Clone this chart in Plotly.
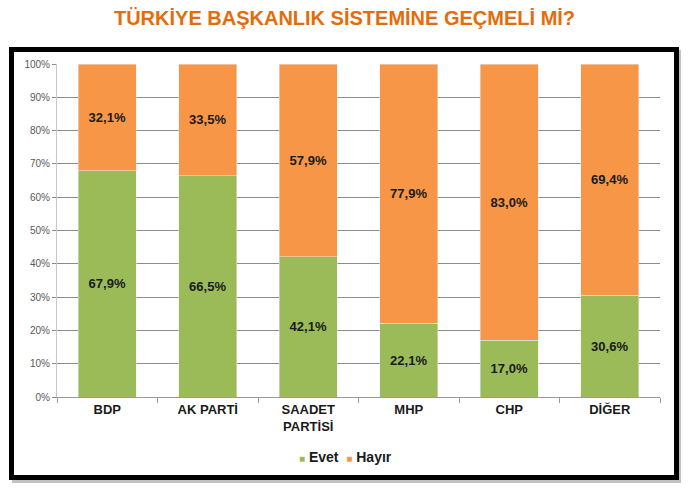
import plotly.graph_objects as go

categories = ["BDP", "AK PARTİ", "SAADET<br>PARTİSİ", "MHP", "CHP", "DİĞER"]
series_names = ["Evet", "Hayır"]
series_colors = ["#9BBB59", "#F79646"]
evet = [67.9, 66.5, 42.1, 22.1, 17.0, 30.6]
hayir = [32.1, 33.5, 57.9, 77.9, 83.0, 69.4]
y_ticks = [0, 10, 20, 30, 40, 50, 60, 70, 80, 90, 100]
y_tick_labels = [f"{v}%" for v in y_ticks]

W, H = 689, 491
L, R, T, B = 57, 29, 64, 94
pw, ph = W - L - R, H - T - B


def px(x):
    return (x - L) / pw


def py(y):
    return (H - B - y) / ph


def fmt(v):
    return f"{v:.1f}".replace(".", ",") + "%"


fig = go.Figure()
for name, color, vals in zip(series_names, series_colors, [evet, hayir]):
    fig.add_trace(go.Bar(
        name=name, x=categories, y=vals, marker_color=color,
        text=[fmt(v) for v in vals], textposition="inside", insidetextanchor="middle",
        texttemplate="<b>%{text}</b>",
        textfont=dict(family="Liberation Sans", size=13, color="#1a1a1a"),
        textangle=0,
    ))

# shadow and frame
fig.add_shape(type="rect", xref="paper", yref="paper",
              x0=px(12), x1=px(681), y0=py(483), y1=py(50),
              line=dict(color="rgba(0,0,0,0)", width=0),
              fillcolor="rgba(120,120,120,0.45)", layer="below")
fig.add_shape(type="rect", xref="paper", yref="paper",
              x0=px(9), x1=px(679), y0=py(480), y1=py(47),
              line=dict(color="rgba(0,0,0,0)", width=0),
              fillcolor="black", layer="below")
fig.add_shape(type="rect", xref="paper", yref="paper",
              x0=px(14), x1=px(674), y0=py(475), y1=py(52),
              line=dict(color="rgba(0,0,0,0)", width=0),
              fillcolor="white", layer="below")

# compact legend (Excel style)
legend_text = "  ".join(
    f'<span style="color:{c}; font-size:10px">■</span> <b>{n}</b>'
    for n, c in zip(series_names, series_colors)
)
fig.add_annotation(
    text=legend_text, xref="paper", yref="paper",
    x=px(345), y=py(457), xanchor="center", yanchor="middle", showarrow=False,
    font=dict(family="Liberation Sans", size=14, color="#1a1a1a"),
)

fig.update_layout(
    width=W, height=H,
    margin=dict(l=L, r=R, t=T, b=B, autoexpand=False),
    barmode="stack", bargap=0.42,
    paper_bgcolor="white", plot_bgcolor="rgba(0,0,0,0)",
    title=dict(text="<b>TÜRKİYE BAŞKANLIK SİSTEMİNE GEÇMELİ Mİ?</b>",
               x=0.5, xref="container", xanchor="center",
               y=1 - 18 / H, yref="container", yanchor="middle",
               font=dict(family="Liberation Sans", size=20, color="#E46C0A")),
    showlegend=False,
    xaxis=dict(
        automargin=False,
        tickfont=dict(family="Liberation Sans", size=13, color="#1a1a1a"),
        tickvals=categories, ticktext=[f"<b>{c}</b>" for c in categories],
        showline=True, linecolor="#9a9a9a", linewidth=1,
        ticks="outside", tickson="boundaries", ticklen=5, tickcolor="#9a9a9a",
        showgrid=False,
    ),
    yaxis=dict(
        automargin=False,
        range=[0, 100], tickvals=y_ticks, ticktext=y_tick_labels,
        tickfont=dict(family="Liberation Sans Narrow, Liberation Sans", size=10, color="#595959"),
        showgrid=True, gridcolor="#8c8c8c", gridwidth=1,
        showline=True, linecolor="#c8c8c8", linewidth=1,
        ticks="outside", ticklen=4, tickcolor="#8c8c8c",
        zeroline=False, fixedrange=True,
    ),
)

fig.write_html("out.html", config={"displayModeBar": False},
               post_script="document.body.style.margin='0';document.body.style.overflow='hidden';")
